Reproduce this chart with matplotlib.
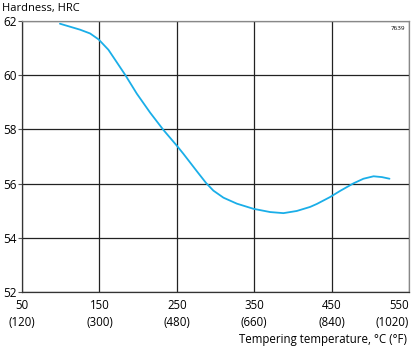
import matplotlib.pyplot as plt

# tempering curve, hardness vs temperature
temp_c = [99, 112, 125, 138, 149, 161.6, 172.4, 183.6, 198.3, 215.5, 232.7, 250,
          258.5, 275.8, 287.9, 297.3, 310.3, 327.6, 349, 370.6, 387.8, 405, 422.3,
          431, 447.8, 461, 478.3, 491.2, 504.2, 515, 524.8]
hardness = [61.90, 61.79, 61.68, 61.54, 61.32, 60.94, 60.48, 60.0, 59.32, 58.62, 57.98, 57.4,
            57.1, 56.46, 56.02, 55.74, 55.48, 55.26, 55.07, 54.95, 54.91, 54.99, 55.14,
            55.25, 55.5, 55.73, 56.01, 56.18, 56.27, 56.24, 56.18]

x_ticks = [50, 150, 250, 350, 450, 550]
x_labels = ["50\n(120)", "150\n(300)", "250\n(480)", "350\n(660)", "450\n(840)", "550\n(1020)"]
y_ticks = [52, 54, 56, 58, 60, 62]

plt.rcParams["font.family"] = ["Open Sans", "DejaVu Sans"]

fig = plt.figure(figsize=(4.11, 3.47), dpi=100)
ax = fig.add_axes([22 / 411, 55 / 347, 387 / 411, 271 / 347])

ax.plot(temp_c, hardness, color="#1aaee8", lw=1.3, solid_capstyle="round",
        solid_joinstyle="round")

ax.set_xlim(50, 550)
ax.set_ylim(52, 62)
ax.set_xticks(x_ticks)
ax.set_xticklabels(x_labels, linespacing=1.45)
ax.set_yticks(y_ticks)
ax.grid(True, color="#222222", lw=0.9)
ax.tick_params(axis="x", length=0, pad=5, labelsize=8.3)
ax.tick_params(axis="y", length=3, width=0.8, pad=1, labelsize=8.5, color="#555555")

# keep the end labels inside the figure
xl = ax.get_xticklabels()
xl[-1].set_horizontalalignment("right")
xl[-1].set_multialignment("right")

for side in ["left", "bottom"]:
    ax.spines[side].set_color("#333333")
    ax.spines[side].set_linewidth(0.9)
for side in ["top", "right"]:
    ax.spines[side].set_color("#888888")
    ax.spines[side].set_linewidth(0.9)

fig.text(2 / 411, 1 - 9 / 347, "Hardness, HRC", fontsize=8, va="center", ha="left")
fig.text(407 / 411, 1 - 340 / 347, "Tempering temperature, °C (°F)", fontsize=8.3,
         va="center", ha="right")
ax.text(0.99, 0.98, "7639", transform=ax.transAxes, fontsize=4.5, ha="right", va="top")

fig.savefig("out.png", dpi=100)
